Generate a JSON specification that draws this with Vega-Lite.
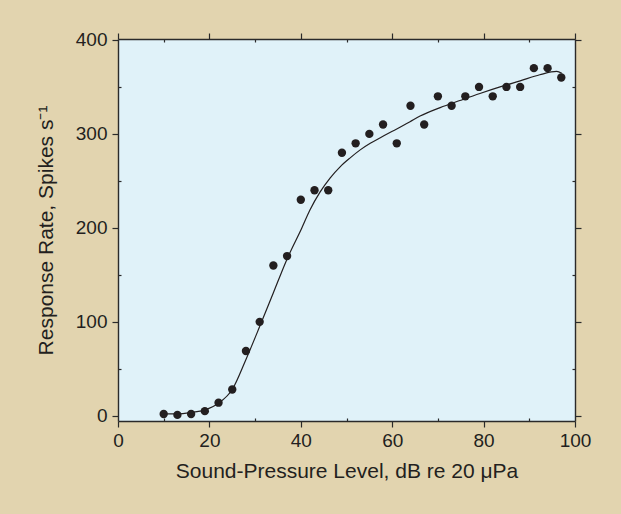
{
  "$schema": "https://vega.github.io/schema/vega-lite/v6.json",
  "width": 457,
  "height": 382,
  "autosize": {"type": "none"},
  "padding": {"left": 118, "top": 39, "right": 46, "bottom": 93},
  "background": "#e2d4af",
  "config": {
    "view": {"fill": "#e0f2f9", "stroke": null},
    "axis": {
      "grid": false,
      "domainColor": "#2a2a2a",
      "domainWidth": 1.4,
      "tickColor": "#2a2a2a",
      "tickWidth": 1.2,
      "labelFont": "Liberation Sans",
      "labelFontSize": 19,
      "labelColor": "#231f20",
      "titleFont": "Liberation Sans",
      "titleFontSize": 21,
      "titleFontWeight": "normal",
      "titleColor": "#231f20"
    }
  },
  "datasets": {
    "points": [
      {"spl": 10, "rate": 2}, {"spl": 13, "rate": 1}, {"spl": 16, "rate": 2}, {"spl": 19, "rate": 5},
      {"spl": 22, "rate": 14}, {"spl": 25, "rate": 28}, {"spl": 28, "rate": 69}, {"spl": 31, "rate": 100},
      {"spl": 34, "rate": 160}, {"spl": 37, "rate": 170}, {"spl": 40, "rate": 230}, {"spl": 43, "rate": 240},
      {"spl": 46, "rate": 240}, {"spl": 49, "rate": 280}, {"spl": 52, "rate": 290}, {"spl": 55, "rate": 300},
      {"spl": 58, "rate": 310}, {"spl": 61, "rate": 290}, {"spl": 64, "rate": 330}, {"spl": 67, "rate": 310},
      {"spl": 70, "rate": 340}, {"spl": 73, "rate": 330}, {"spl": 76, "rate": 340}, {"spl": 79, "rate": 350},
      {"spl": 82, "rate": 340}, {"spl": 85, "rate": 350}, {"spl": 88, "rate": 350}, {"spl": 91, "rate": 370},
      {"spl": 94, "rate": 370}, {"spl": 97, "rate": 360}
    ],
    "curve": [
      {"spl": 10, "rate": 2}, {"spl": 13, "rate": 2}, {"spl": 16, "rate": 3.5}, {"spl": 19, "rate": 6.4},
      {"spl": 22, "rate": 13.5}, {"spl": 25, "rate": 28}, {"spl": 28, "rate": 60}, {"spl": 31, "rate": 95},
      {"spl": 34, "rate": 131}, {"spl": 37, "rate": 167}, {"spl": 40.2, "rate": 199.7}, {"spl": 42, "rate": 219},
      {"spl": 44.2, "rate": 238}, {"spl": 46.4, "rate": 253}, {"spl": 48.6, "rate": 265}, {"spl": 50.8, "rate": 274.5},
      {"spl": 53, "rate": 283}, {"spl": 55.2, "rate": 290}, {"spl": 57.4, "rate": 296}, {"spl": 59.5, "rate": 301.5},
      {"spl": 61.7, "rate": 307}, {"spl": 63.9, "rate": 313}, {"spl": 66.1, "rate": 319}, {"spl": 70.5, "rate": 328},
      {"spl": 74.8, "rate": 335.5}, {"spl": 79.2, "rate": 343}, {"spl": 83.6, "rate": 350}, {"spl": 88, "rate": 356.5},
      {"spl": 92.3, "rate": 363}, {"spl": 96, "rate": 366.5}, {"spl": 97.1, "rate": 364.6}
    ]
  },
  "resolve": {"axis": {"x": "independent", "y": "independent"}},
  "layer": [
    {
      "data": {"name": "points"},
      "mark": {"type": "circle", "size": 70, "opacity": 1, "color": "#231f20"},
      "encoding": {
        "x": {
          "field": "spl", "type": "quantitative",
          "scale": {"domain": [0, 100], "nice": false, "zero": false},
          "axis": {"orient": "bottom", "values": [0, 20, 40, 60, 80, 100], "tickSize": 6, "labelPadding": 4,
                   "title": "Sound-Pressure Level, dB re 20 μPa", "titlePadding": 10, "labelFlush": false, "labelOverlap": false}
        },
        "y": {
          "field": "rate", "type": "quantitative",
          "scale": {"domain": [-5.5, 401], "nice": false, "zero": false},
          "axis": {"orient": "left", "values": [0, 100, 200, 300, 400], "tickSize": 6, "labelPadding": 5,
                   "title": "Response Rate, Spikes s⁻¹", "titlePadding": 19, "labelFlush": false, "labelOverlap": false}
        }
      }
    },
    {
      "data": {"name": "curve"},
      "mark": {"type": "line", "color": "#231f20", "strokeWidth": 1.2, "interpolate": "monotone"},
      "encoding": {
        "x": {
          "field": "spl", "type": "quantitative",
          "axis": {"orient": "top", "values": [0, 20, 40, 60, 80, 100], "tickSize": 6, "labels": false, "title": null}
        },
        "y": {
          "field": "rate", "type": "quantitative",
          "axis": {"orient": "right", "values": [0, 100, 200, 300, 400], "tickSize": 6, "labels": false, "title": null}
        }
      }
    },
    {
      "data": {"name": "points"},
      "mark": {"type": "circle", "opacity": 0},
      "encoding": {
        "x": {
          "field": "spl", "type": "quantitative",
          "axis": {"orient": "bottom", "values": [10, 30, 50, 70, 90], "tickSize": -3, "labels": false, "domain": false, "title": null}
        },
        "y": {
          "field": "rate", "type": "quantitative",
          "axis": {"orient": "left", "values": [50, 150, 250, 350], "tickSize": -3, "labels": false, "domain": false, "title": null}
        }
      }
    },
    {
      "data": {"name": "points"},
      "mark": {"type": "circle", "opacity": 0},
      "encoding": {
        "x": {
          "field": "spl", "type": "quantitative",
          "axis": {"orient": "top", "values": [10, 30, 50, 70, 90], "tickSize": -3, "labels": false, "domain": false, "title": null}
        },
        "y": {
          "field": "rate", "type": "quantitative",
          "axis": {"orient": "right", "values": [50, 150, 250, 350], "tickSize": -3, "labels": false, "domain": false, "title": null}
        }
      }
    }
  ]
}
